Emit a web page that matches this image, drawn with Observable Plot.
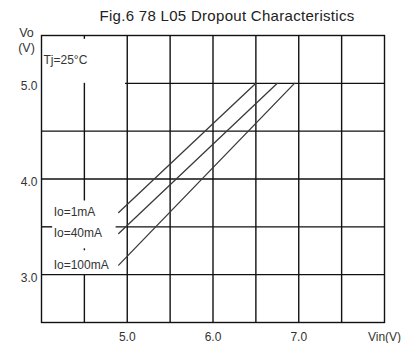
<!DOCTYPE html>
<html><head><meta charset="utf-8">
<script src="https://cdn.jsdelivr.net/npm/d3@7"></script>
<script src="https://cdn.jsdelivr.net/npm/@observablehq/plot@0.6"></script>
<style>html,body{margin:0;padding:0;background:#fff}svg{display:block}</style>
</head><body><div id="chart"></div>
<script>
const title = "Fig.6 78 L05 Dropout Characteristics";
const seriesNames = ["Io=1mA", "Io=40mA", "Io=100mA"];
const vinStart = [4.9, 4.9, 4.9];
const voStart = [3.65, 3.43, 3.1];
const vinEnd = [6.5, 6.75, 6.95];
const voEnd = [5.0, 5.0, 5.0];
const xTicks = [5, 6, 7, 8];
const xTickLabels = ["5.0", "6.0", "7.0", "Vin(V)"];
const yTicks = [3, 4, 5];
const yTickLabels = ["3.0", "4.0", "5.0"];
const yAxisLabel = ["Vo", "(V)"];
const annotation = "Tj=25°C";
// grid lines of the original figure (with the gaps left around its labels)
const vGridX = [4.5, 4.5, 4.5, 4.5, 5, 5.5, 6, 6.5, 7, 7.5];
const vGridY1 = [5.5, 5.0, 3.27, 3.0, 2.5, 2.5, 2.5, 2.5, 2.5, 2.5];
const vGridY2 = [5.46, 3.77, 3.25, 2.5, 5.5, 5.5, 5.5, 5.5, 5.5, 5.5];
const hGridY = [3, 3.5, 3.5, 4, 4.5, 5];
const hGridX1 = [4, 4, 4.87, 4, 4, 4.98];
const hGridX2 = [8, 4.13, 8, 8, 8, 8];

const curves = seriesNames.flatMap((s, i) => [
  {series: s, vin: vinStart[i], vo: voStart[i]},
  {series: s, vin: vinEnd[i], vo: voEnd[i]}
]);
const vGrid = vGridX.map((x, i) => ({x, y1: vGridY1[i], y2: vGridY2[i]}));
const hGrid = hGridY.map((y, i) => ({y, x1: hGridX1[i], x2: hGridX2[i]}));
const labels = seriesNames.map((s, i) => ({s, x: vinStart[i], y: voStart[i]}));

const font = "'Liberation Sans', Arial, sans-serif";
const ink = "#333";

const chart = Plot.plot({
  width: 403, height: 343,
  marginLeft: 41, marginRight: 19, marginTop: 35, marginBottom: 21,
  style: {fontFamily: font, fontSize: "12px", color: ink, background: "#fff", overflow: "visible"},
  x: {domain: [4, 8]},
  y: {domain: [2.5, 5.5]},
  marks: [
    Plot.ruleX(vGrid, {x: "x", y1: "y1", y2: "y2", stroke: "#111", strokeWidth: 1.4}),
    Plot.ruleY(hGrid, {y: "y", x1: "x1", x2: "x2", stroke: "#111", strokeWidth: 1.4}),
    Plot.frame({stroke: "#111", strokeWidth: 1.4}),
    Plot.line(curves, {x: "vin", y: "vo", z: "series", stroke: "#3a3a3a", strokeWidth: 1.3}),
    Plot.text(labels, {x: "x", y: "y", text: "s", textAnchor: "start", dx: -65, fill: ink, fontSize: 12}),
    Plot.text([annotation], {frameAnchor: "top-left", lineAnchor: "middle", textAnchor: "start", dx: 2, dy: 25, fill: ink, fontSize: 12}),
    Plot.text([title], {frameAnchor: "top", lineAnchor: "middle", dx: 14, dy: -19, fill: "#222", fontSize: 15}),
    Plot.text([yAxisLabel.join("\n")], {frameAnchor: "top-left", lineAnchor: "middle", textAnchor: "middle", dx: -15, dy: 4, lineHeight: 1.25, fill: ink, fontSize: 12.5}),
    Plot.axisX({ticks: xTicks, tickSize: 0, tickPadding: 10, label: null, tickFormat: d => xTickLabels[xTicks.indexOf(d)], fill: ink}),
    Plot.axisY({ticks: yTicks, tickSize: 0, tickPadding: 4, dy: 3, label: null, tickFormat: d => yTickLabels[yTicks.indexOf(d)], fill: ink})
  ]
});
d3.select(chart).selectAll("text").filter(function() { return this.textContent === title; })
  .attr("letter-spacing", "0.3px");
document.getElementById("chart").appendChild(chart);
</script></body></html>
